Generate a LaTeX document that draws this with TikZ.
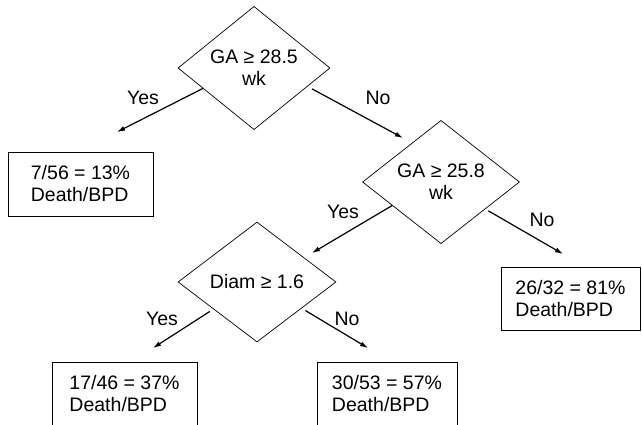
\documentclass[tikz,border=0pt]{standalone}
\usepackage{fontspec}
\setmainfont{Liberation Sans}
\usetikzlibrary{shapes.geometric,arrows.meta,calc}
\begin{document}
\begin{tikzpicture}[x=1pt,y=-1pt,
  font=\fontsize{19.5}{22}\selectfont,
  decision/.style={draw, diamond, inner sep=0pt, line width=0.7pt, align=center},
  result/.style={draw, rectangle, inner sep=0pt, line width=0.7pt, align=left},
  conn/.style={line width=1.2pt, -{Latex[length=8pt,width=5pt]}},
  lbl/.style={inner sep=0pt}]
\useasboundingbox (0,0) rectangle (642,424);
\clip (0,0) rectangle (642,424);

% decisions
\node[decision, minimum width=152pt, minimum height=120pt] (d1) at (254,68) {GA ≥ 28.5\\wk};
\node[decision, minimum width=157pt, minimum height=118pt] (d2) at (441,182) {GA ≥ 25.8\\wk};
\node[decision, minimum width=158pt, minimum height=120pt] (d3) at (257,282) {Diam ≥ 1.6};

% results
\node[result, minimum width=145pt, minimum height=64pt] (r1) at (80.5,184) {7/56 = 13\%\\Death/BPD};
\node[result, minimum width=139pt, minimum height=63pt] (r2) at (570.5,298.5) {26/32 = 81\%\\Death/BPD};
\node[result, minimum width=145pt, minimum height=64pt] (r3) at (124.5,394) {17/46 = 37\%\\Death/BPD};
\node[result, minimum width=140pt, minimum height=64pt] (r4) at (387,394) {30/53 = 57\%\\Death/BPD};

% connector free ends
\coordinate (e1) at (117,132);
\coordinate (e2) at (403,138);
\coordinate (e3) at (312,253);
\coordinate (e4) at (563,254);
\coordinate (e5) at (153,348);
\coordinate (e6) at (368,348);

% connectors
\draw[conn] ($(d1.west)!0.33!(d1.south)$) -- (e1);
\draw[conn] ($(d1.east)!0.24!(d1.south)+(0,6)$) -- (e2);
\draw[conn] ($(d2.west)!0.38!(d2.south)$) -- (e3);
\draw[conn] ($(d2.east)!0.4!(d2.south)+(0,4)$) -- (e4);
\draw[conn] ($(d3.west)!0.405!(d3.south)+(0,5)$) -- (e5);
\draw[conn] ($(d3.east)!0.39!(d3.south)+(0,5)$) -- (e6);

% labels
\node[lbl] (l1) at (143,98) {Yes};
\node[lbl] (l2) at (378,98) {No};
\node[lbl] (l3) at (343,212) {Yes};
\node[lbl] (l4) at (542,220) {No};
\node[lbl] (l5) at (162,319) {Yes};
\node[lbl] (l6) at (347,319) {No};
\end{tikzpicture}
\end{document}
